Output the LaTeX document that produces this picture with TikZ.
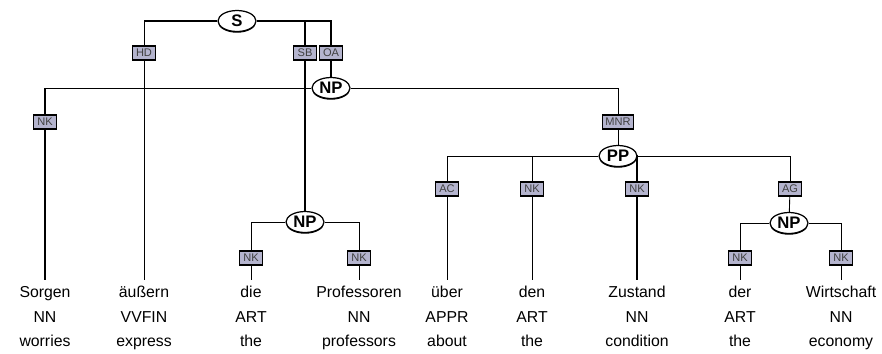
\documentclass[tikz,border=0pt]{standalone}
\usepackage{fontspec}
\setmainfont{Liberation Sans}
\usetikzlibrary{shapes.geometric, positioning, shadows}
\definecolor{edgelbl}{RGB}{180,180,206}

\begin{document}
\begin{tikzpicture}[
  x=0.02cm, y=-0.02cm,
  cat/.style={draw, ellipse, fill=white, minimum width=0.76cm,
              minimum height=0.42cm, inner sep=0pt, line width=0.7pt,
              font=\fontsize{9.5}{10}\selectfont\bfseries,
              drop shadow={shadow xshift=0pt, shadow yshift=-0.7pt,
                           fill=black, opacity=1}},
  func/.style={draw, fill=edgelbl, line width=0.6pt, inner xsep=1.5pt,
               inner ysep=1pt, minimum width=0.46cm, minimum height=0.28cm,
               font=\fontsize{6.3}{7}\selectfont, text=black!75},
  word/.style={anchor=north, inner sep=0pt, align=center,
               font=\fontsize{9}{14}\selectfont},
  edge/.style={line width=0.5pt},
  head/.style={line width=1.2pt}
]
\useasboundingbox (0,0) rectangle (882,353);

% phrase nodes
\node[cat] (s)      at (237,21)  {S};
\node[cat] (np-top) at (331,88)  {NP};
\node[cat] (pp)     at (618,156) {PP};
\node[cat] (np-die) at (305,222) {NP};
\node[cat] (np-der) at (789,223) {NP};

% edge labels
\node[func] (hd)  at (144,53) {HD};
\node[func] (sb)  at (305,53) {SB};
\node[func] (oa)  at (331,53) {OA};
\node[func] (nk-sorgen) at (45,122)  {NK};
\node[func] (mnr)       at (618,122) {MNR};
\node[func] (ac)         at (447,189) {AC};
\node[func] (nk-den)     at (532,189) {NK};
\node[func] (nk-zustand) at (637,189) {NK};
\node[func] (ag)         at (790,189) {AG};
\node[func] (nk-die)  at (251,258) {NK};
\node[func] (nk-prof) at (359,258) {NK};
\node[func] (nk-der)  at (740,258) {NK};
\node[func] (nk-wirt) at (841,258) {NK};

% words
\node[word] (w-sorgen)  at (45,280)  {\strut Sorgen\\NN\\worries};
\node[word] (w-aeussern) at (144,280) {\strut äußern\\VVFIN\\express};
\node[word] (w-die)     at (251,280) {\strut die\\ART\\the};
\node[word] (w-prof)    at (359,280) {\strut Professoren\\NN\\professors};
\node[word] (w-ueber)   at (447,280) {\strut über\\APPR\\about};
\node[word] (w-den)     at (532,280) {\strut den\\ART\\the};
\node[word] (w-zustand) at (637,280) {\strut Zustand\\NN\\condition};
\node[word] (w-der)     at (740,280) {\strut der\\ART\\the};
\node[word] (w-wirt)    at (841,280) {\strut Wirtschaft\\NN\\economy};

% S
\draw[head] (s.west) -- (s.west -| hd);
\draw[edge] (s.west -| hd) -- (hd);
\draw[edge] (hd) -- (w-aeussern);
\draw[head] (s.east) -| (sb.north);
\draw[head] (sb) -- (np-die);
\draw[head] (s.east) -| (oa.north);
\draw[head] (oa) -- (np-top);

% NP (top)
\draw[edge] (np-top.west) -| (nk-sorgen.north);
\draw[head] (np-top.west -| nk-sorgen) -- (nk-sorgen);
\draw[head] (nk-sorgen) -- (w-sorgen);
\draw[edge] (np-top.east) -| (mnr.north);
\draw[edge] (mnr) -- (pp);

% PP
\draw[edge] (pp.west) -| (ac.north);
\draw[edge] (pp.west) -| (nk-den.north);
\draw[head] (pp.east) -| (nk-zustand.north);
\draw[edge] (pp.east) -| (ag.north);
\draw[edge] (ac) -- (w-ueber);
\draw[edge] (nk-den) -- (w-den);
\draw[head] (nk-zustand) -- (w-zustand);
\draw[edge] (ag) -- (np-der);

% NP die Professoren
\draw[edge] (np-die.west) -| (nk-die.north);
\draw[edge] (np-die.east) -| (nk-prof.north);
\draw[edge] (nk-die) -- (w-die);
\draw[edge] (nk-prof) -- (w-prof);

% NP der Wirtschaft
\draw[edge] (np-der.west) -| (nk-der.north);
\draw[edge] (np-der.east) -| (nk-wirt.north);
\draw[edge] (nk-der) -- (w-der);
\draw[edge] (nk-wirt) -- (w-wirt);

\end{tikzpicture}
\end{document}
